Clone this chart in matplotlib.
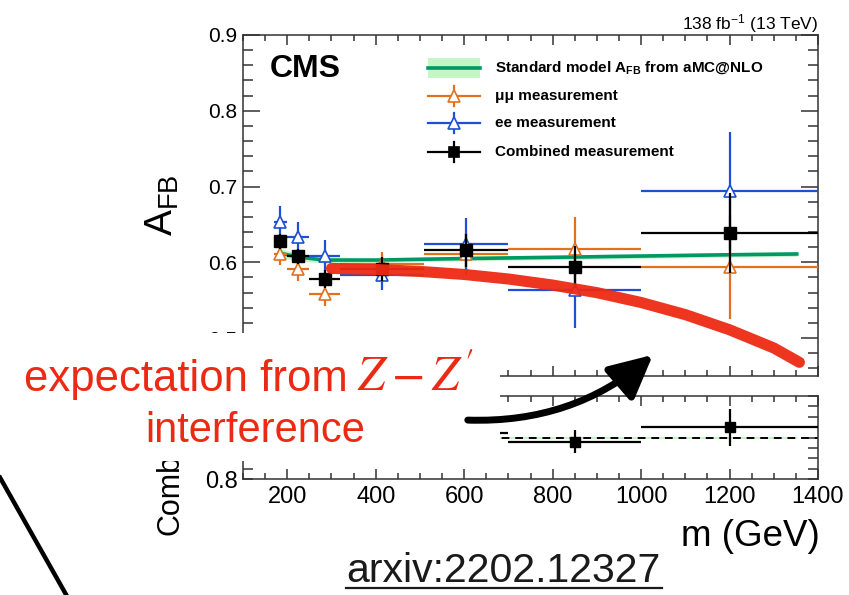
import matplotlib
matplotlib.use('Agg')
import matplotlib.pyplot as plt
from matplotlib.patches import Rectangle, FancyArrowPatch
from matplotlib.ticker import MultipleLocator, FixedLocator, FixedFormatter
import numpy as np

plt.rcParams['font.family'] = ['Liberation Sans', 'DejaVu Sans']
plt.rcParams['mathtext.fontset'] = 'custom'
plt.rcParams['mathtext.rm'] = 'Liberation Sans'
plt.rcParams['mathtext.bf'] = 'Liberation Sans:bold'
plt.rcParams['mathtext.it'] = 'Liberation Sans:italic'

# ---------------- data ----------------
bin_lo = [170, 200, 250, 320, 510, 700, 1000]
bin_hi = [200, 250, 320, 510, 700, 1000, 1500]
mass = [184, 225, 285, 415, 605, 850, 1200]

comb_afb = [0.628, 0.608, 0.578, 0.591, 0.616, 0.594, 0.639]
comb_err = [0.010, 0.010, 0.012, 0.016, 0.022, 0.028, 0.053]

ee_afb = [0.653, 0.634, 0.609, 0.583, 0.624, 0.563, 0.694]
ee_err = [0.021, 0.019, 0.021, 0.019, 0.034, 0.049, 0.078]

mumu_afb = [0.611, 0.591, 0.558, 0.598, 0.611, 0.617, 0.594]
mumu_err = [0.015, 0.015, 0.016, 0.016, 0.028, 0.043, 0.069]

sm_mass = [184, 225, 285, 400, 600, 850, 1200, 1352]
sm_afb = [0.612, 0.607, 0.603, 0.603, 0.605, 0.607, 0.610, 0.611]
sm_unc = [0.006, 0.005, 0.004, 0.003, 0.003, 0.003, 0.003, 0.003]

ratio = [1.026, 1.002, 0.957, 0.980, 1.022, 0.980, 1.049]
ratio_err = [0.016, 0.017, 0.020, 0.027, 0.036, 0.056, 0.088]

zp_mass = [300, 400, 500, 600, 700, 800, 900, 1000, 1100, 1200, 1300, 1358]
zp_afb = [0.592, 0.5905, 0.588, 0.584, 0.578, 0.570, 0.560, 0.547, 0.531, 0.511,
          0.487, 0.468]

x_ticks = [200, 400, 600, 800, 1000, 1200, 1400]

# ---------------- style ----------------
ORANGE = '#e2701f'
BLUE = '#1f4fd2'
GREEN = '#009966'
LGREEN = '#c6f5c6'
RED = '#ec2a14'

W, H = 849, 595
fig = plt.figure(figsize=(W / 100, H / 100), dpi=100)


def px_axes(l, t, r, b):
    return fig.add_axes([l / W, 1 - b / H, (r - l) / W, (b - t) / H])


ax = px_axes(243, 35, 818, 376)
ax2 = px_axes(243, 396, 818, 479)

xe_lo = [m - lo for m, lo in zip(mass, bin_lo)]
xe_hi = [hi - m for m, hi in zip(mass, bin_hi)]
xerr = [xe_lo, xe_hi]

# SM band + line
ax.fill_between(sm_mass, np.array(sm_afb) - np.array(sm_unc),
                np.array(sm_afb) + np.array(sm_unc), color=LGREEN, lw=0, zorder=1)
ax.plot(sm_mass, sm_afb, color=GREEN, lw=2.6, zorder=2)

ekw = dict(elinewidth=1.6, capsize=0, linestyle='none')
ax.errorbar(mass, mumu_afb, yerr=mumu_err, xerr=xerr, fmt='^', color=ORANGE,
            mfc='white', mec=ORANGE, ms=8.5, mew=1.2, zorder=3, **ekw)
ax.errorbar(mass, ee_afb, yerr=ee_err, xerr=xerr, fmt='^', color=BLUE,
            mfc='white', mec=BLUE, ms=8.5, mew=1.2, zorder=4, **ekw)
ax.errorbar(mass, comb_afb, yerr=comb_err, xerr=xerr, fmt='s', color='black',
            ms=8, zorder=5, **ekw)

# Z - Z' expectation band
ax.plot(zp_mass, zp_afb, color=RED, lw=8, solid_capstyle='round',
        solid_joinstyle='round', zorder=6, alpha=0.95)

ax.set_xlim(100, 1400)
ax.set_ylim(0.45, 0.9)
ax.yaxis.set_major_locator(MultipleLocator(0.1))
ax.yaxis.set_minor_locator(MultipleLocator(0.02))
ax.xaxis.set_major_locator(MultipleLocator(200))
ax.xaxis.set_minor_locator(MultipleLocator(50))
ax.yaxis.set_major_formatter(matplotlib.ticker.FormatStrFormatter('%.1f'))
ax.tick_params(which='both', direction='in', top=True, right=True,
               labelbottom=False, labelsize=15, pad=4, width=1.1, color='#333333')
ax.tick_params(axis='y', which='major', length=12)
ax.tick_params(axis='y', which='minor', length=7)
ax.tick_params(axis='x', which='major', length=7)
ax.tick_params(axis='x', which='minor', length=4)
for s in ax.spines.values():
    s.set_linewidth(1.1)
    s.set_color('#333333')

# ratio panel
ax2.fill_between(sm_mass, 1 - np.array(sm_unc) / np.array(sm_afb),
                 1 + np.array(sm_unc) / np.array(sm_afb), color=LGREEN, lw=0, zorder=1)
ax2.axhline(1.0, color='black', ls='--', lw=1.4, dashes=(4, 3), zorder=2)
ax2.errorbar(mass, ratio, yerr=ratio_err, xerr=xerr, fmt='s', color='black',
             ms=6.5, zorder=3, **ekw)
ax2.set_xlim(100, 1400)
ax2.set_ylim(0.8, 1.2)
ax2.set_xticks(x_ticks)
ax2.xaxis.set_minor_locator(MultipleLocator(50))
ax2.yaxis.set_major_locator(FixedLocator([0.8, 1.0, 1.2]))
ax2.yaxis.set_major_formatter(FixedFormatter(['0.8', '', '']))
ax2.yaxis.set_minor_locator(MultipleLocator(0.05))
ax2.tick_params(which='both', direction='in', top=True, right=True,
                labelsize=17, pad=4, width=1.1, color='#333333')
ax2.tick_params(axis='x', which='major', length=7, pad=5)
ax2.tick_params(axis='x', which='minor', length=4)
ax2.tick_params(axis='y', which='major', length=7)
ax2.tick_params(axis='y', which='minor', length=7)
for s in ax2.spines.values():
    s.set_linewidth(1.1)
    s.set_color('#333333')

# ---------------- overlay (pixel coordinates) ----------------
fig.text(171 / W, 1 - 535 / H, 'Comb', rotation=90, ha='center', va='bottom',
         fontsize=22)

ov = fig.add_axes([0, 0, 1, 1], zorder=10)
ov.set_xlim(0, W)
ov.set_ylim(H, 0)
ov.axis('off')
ov.patch.set_alpha(0)

ov.text(162, 205, r'A$_{\mathregular{FB}}$', rotation=90, ha='center', va='center',
        fontsize=28)
ov.text(818, 29, r'138 fb$^{\mathregular{-1}}$ (13 TeV)', ha='right', va='baseline',
        fontsize=12.5)
ov.text(270, 77, 'CMS', fontweight='bold', fontsize=23, ha='left', va='baseline')

# legend
ov.add_patch(Rectangle((428, 58), 52, 20, color=LGREEN, lw=0))
ov.plot([428, 480], [68, 68], color=GREEN, lw=2.6)
ov.text(495, 68, r'Standard model A$_{\mathbf{FB}}$ from aMC@NLO', fontweight='bold',
        fontsize=11, va='center', ha='left')
leg_rows = [(96, ORANGE, '^', 'white', 'μμ measurement'),
            (123, BLUE, '^', 'white', 'ee measurement'),
            (152, 'black', 's', 'black', 'Combined measurement')]
for y, c, mk, fc, lab in leg_rows:
    ov.plot([428, 480], [y, y], color=c, lw=1.6)
    ov.plot([454, 454], [y - 10, y + 10], color=c, lw=1.6)
    ov.plot([454], [y], marker=mk, ms=8.5 if mk == '^' else 7.5, mfc=fc, mec=c,
            mew=1.2, color=c)
    ov.text(495, y, lab, fontweight='bold', fontsize=11, va='center', ha='left')

# white cover box
ov.add_patch(Rectangle((0, 333), 500, 128, facecolor='white', edgecolor='none', zorder=5))

ov.text(24, 391, 'expectation from', color=RED, fontsize=31.5, ha='left',
        va='baseline', zorder=6)
ov.text(357, 391, r"$Z - Z'$", color=RED, fontsize=35, ha='left', va='baseline',
        math_fontfamily='stix', zorder=6)
ov.text(255, 442, 'interference', color=RED, fontsize=30, ha='center',
        va='baseline', zorder=6)

arr = FancyArrowPatch((465, 420), (655, 353), connectionstyle='arc3,rad=0.2',
                      arrowstyle='-|>,head_length=1.0,head_width=0.5',
                      mutation_scale=26, lw=5, color='black', zorder=7)
ov.add_patch(arr)

ov.plot([-2, 68], [474, 598], color='black', lw=3.2, solid_capstyle='butt')

ov.text(820, 546, 'm (GeV)', ha='right', va='baseline', fontsize=26.5)
ov.text(346, 582, 'arxiv:2202.12327', ha='left', va='baseline', fontsize=29.5,
        color='#1a1a1a')
ov.plot([346, 662], [588, 588], color='#1a1a1a', lw=1.6)

fig.savefig('out.png', dpi=100)
